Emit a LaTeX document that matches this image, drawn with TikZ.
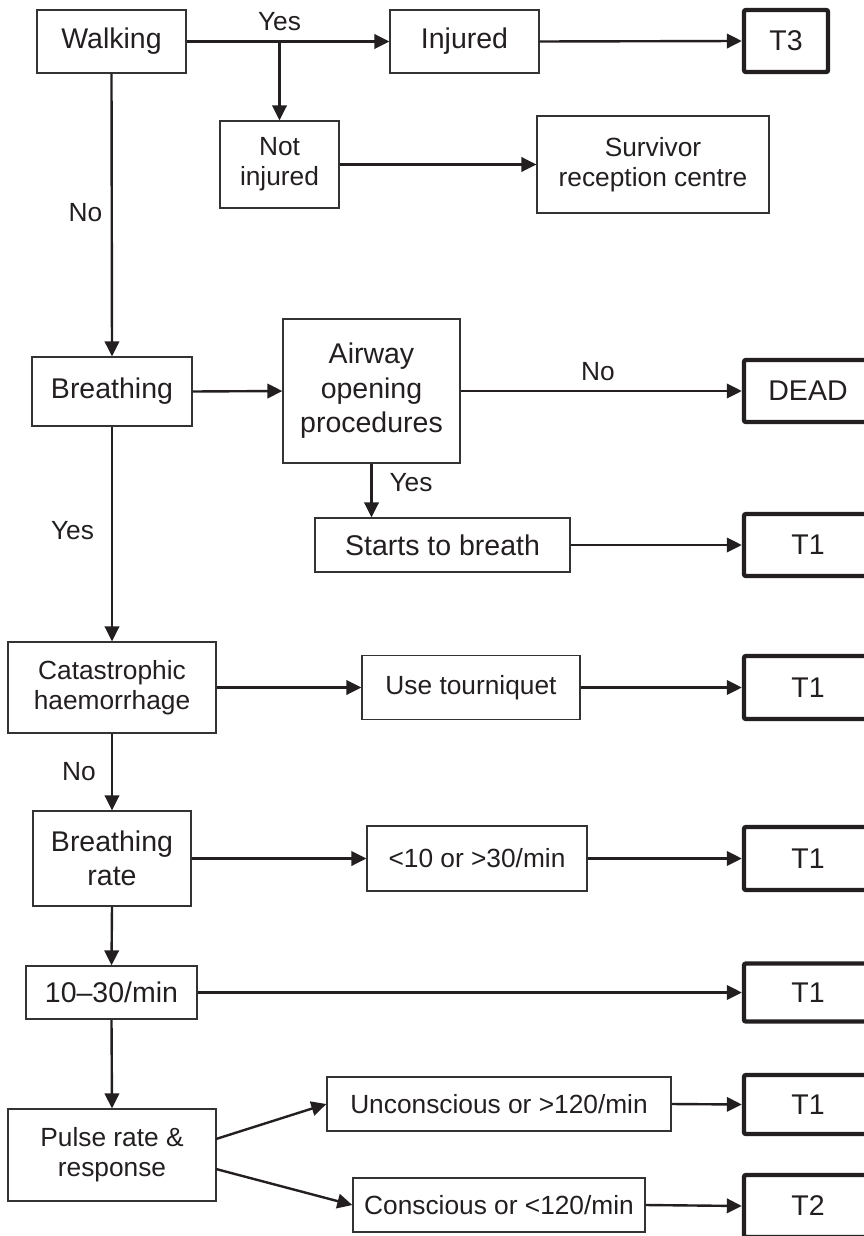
\documentclass[tikz,border=0pt]{standalone}
\usepackage{fontspec}
\setmainfont{Liberation Sans}
\usetikzlibrary{arrows.meta}
\definecolor{txt}{HTML}{231F20}
\definecolor{boxc}{HTML}{333333}
\newcommand\txtBig{\fontsize{28.5}{34.5}\selectfont}
\newcommand\txtSm{\fontsize{26.3}{30}\selectfont}
\begin{document}
\begin{tikzpicture}[x=1pt,y=-1pt,
  box/.style={draw=boxc, line width=1.3pt, inner sep=0pt, align=center, text=txt, font=\txtSm},
  bigbox/.style={box, font=\txtBig},
  tbox/.style={draw=txt, line width=4.4pt, rounded corners=2pt, inner sep=0pt, align=center, text=txt, font=\txtBig},
  conn/.style={draw=txt, line width=2.4pt, -{Triangle[length=15pt,width=14.5pt]}},
  lbl/.style={text=txt, font=\txtSm, inner sep=0pt}
]
\useasboundingbox (0,0) rectangle (863,1236);
\fill[white] (0,0) rectangle (863,1236);

% nodes
\node[bigbox, minimum width=149pt, minimum height=63pt] (walk) at (111.5,41.5) {Walking};
\node[bigbox, minimum width=149pt, minimum height=63pt] (inj) at (464.5,41.5) {Injured};
\node[tbox, minimum width=84pt, minimum height=62pt] (t3) at (786,41) {T3};
\node[box, minimum width=119pt, minimum height=87pt] (notinj) at (279.5,164.5) {Not\\injured};
\node[box, minimum width=232pt, minimum height=97pt] (surv) at (653,164.5) {Survivor\\reception centre};

\node[bigbox, minimum width=160pt, minimum height=69pt] (breath) at (112,391.5) {Breathing};
\node[bigbox, minimum width=177pt, minimum height=144pt] (airway) at (371.5,391) {Airway\\opening\\procedures};
\node[tbox, minimum width=128pt, minimum height=62pt] (dead) at (808,391) {DEAD};
\node[bigbox, minimum width=255pt, minimum height=54pt] (starts) at (442.5,545) {Starts to breath};
\node[tbox, minimum width=128pt, minimum height=62pt] (t1a) at (808,545) {T1};

\node[box, minimum width=208pt, minimum height=91pt] (cat) at (112,687.5) {Catastrophic\\haemorrhage};
\node[box, minimum width=218pt, minimum height=64pt] (tourn) at (471,687.5) {Use tourniquet};
\node[tbox, minimum width=128pt, minimum height=63pt] (t1b) at (808,687.5) {T1};

\node[bigbox, minimum width=158pt, minimum height=95pt] (brate) at (112,858.5) {Breathing\\rate};
\node[box, minimum width=220pt, minimum height=65pt] (lt10) at (477,858.5) {<10 or >30/min};
\node[tbox, minimum width=128pt, minimum height=63pt] (t1c) at (808,858.5) {T1};

\node[bigbox, minimum width=171pt, minimum height=53pt] (r1030) at (111.5,992.5) {10–30/min};
\node[tbox, minimum width=128pt, minimum height=58pt] (t1d) at (808,992.5) {T1};

\node[box, minimum width=208pt, minimum height=92pt] (pulse) at (112,1155) {Pulse rate \&\\response};
\node[box, minimum width=344pt, minimum height=54pt] (uncon) at (499,1104) {Unconscious or >120/min};
\node[tbox, minimum width=128pt, minimum height=59pt] (t1e) at (808,1104.5) {T1};
\node[box, minimum width=292pt, minimum height=54pt] (consc) at (499,1205) {Conscious or <120/min};
\node[tbox, minimum width=128pt, minimum height=62pt] (t2) at (808,1206) {T2};

% branch point and free ends
\coordinate (split) at (279.5,41.5);
\coordinate (pA) at (216,1139);
\coordinate (pB) at (216,1169);

% connectors
\draw[conn] (walk.east) -- (inj.west);
\draw[conn] (split) -- (notinj.north);
\draw[conn] (inj.east) -- (t3.west);
\draw[conn] (notinj.east) -- (surv.west);
\draw[conn] (walk.south) -- (breath.north);
\draw[conn] (breath.east) -- (airway.west);
\draw[conn] (airway.east) -- (dead.west);
\draw[conn] (airway.south) -- (airway.south |- starts.north);
\draw[conn] (starts.east) -- (t1a.west);
\draw[conn] (breath.south) -- (cat.north);
\draw[conn] (cat.east) -- (tourn.west);
\draw[conn] (tourn.east) -- (t1b.west);
\draw[conn] (cat.south) -- (brate.north);
\draw[conn] (brate.east) -- (lt10.west);
\draw[conn] (lt10.east) -- (t1c.west);
\draw[conn] (brate.south) -- (r1030.north);
\draw[conn] (r1030.east) -- (t1d.west);
\draw[conn] (r1030.south) -- (pulse.north);
\draw[conn] (pA) -- (uncon.west);
\draw[conn] (pB) -- (consc.west);
\draw[conn] (uncon.east) -- (t1e.west);
\draw[conn] (consc.east) -- (t2.west);

% labels
\node[lbl] (yes1) at (279.5,22) {Yes};
\node[lbl] (no1) at (85.5,213) {No};
\node[lbl] (no2) at (598,372) {No};
\node[lbl] (yes2) at (411,483) {Yes};
\node[lbl] (yes3) at (72.5,531) {Yes};
\node[lbl] (no3) at (79,772) {No};
\end{tikzpicture}
\end{document}
